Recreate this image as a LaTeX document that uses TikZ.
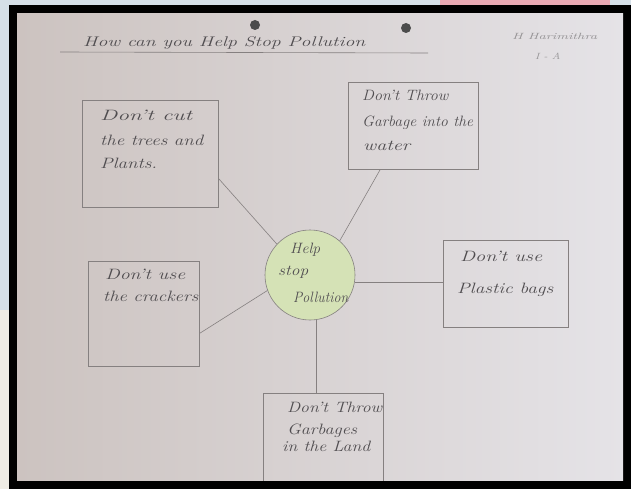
\documentclass[tikz,border=0pt]{standalone}
\usepackage{graphicx}
\usetikzlibrary{calc}
\definecolor{outerblue}{HTML}{D6E0E8}
\definecolor{outercream}{HTML}{EFECE4}
\definecolor{paperL}{HTML}{CCC3C0}
\definecolor{paperR}{HTML}{E5E3E7}
\definecolor{pencil}{HTML}{858080}
\definecolor{ink}{HTML}{504D50}
\definecolor{leaf}{HTML}{D5E2B6}
\definecolor{topred}{HTML}{E9A9B3}
\newcommand\hwt[2]{\resizebox{#1}{\height}{#2}}
\tikzset{
  box/.style={draw=pencil, line width=0.6pt, fill=none, inner sep=0pt},
  hub/.style={circle, draw=pencil, line width=0.6pt, fill=leaf, minimum size=90pt, inner sep=0pt},
  link/.style={draw=pencil, line width=0.6pt},
  hand/.style={text=ink, font=\fontsize{15}{17}\selectfont\itshape, anchor=base west, inner sep=0pt},
  small/.style={text=ink!60, font=\fontsize{9}{10}\selectfont\itshape, anchor=base west, inner sep=0pt}
}
\begin{document}
\begin{tikzpicture}[x=1pt,y=-1pt]
\useasboundingbox (0,0) rectangle (631,489);
% surroundings of the photo
\fill[outerblue] (0,0) rectangle (631,489);
\fill[outercream] (0,310) rectangle (9,489);
\fill[topred] (440,0) rectangle (610,5);
\fill[black] (9,5) rectangle (631,489);
\shade[left color=paperL, right color=paperR] (17,14) rectangle (623,480);
\begin{scope}
\clip (17,14) rectangle (623,480);
% punch holes
\fill[black!70] (255,25) circle (5);
\fill[black!70] (406,28) circle (5);
% title
\node[hand, font=\fontsize{14}{16}\selectfont\itshape] (title) at (83,47) {\hwt{282pt}{How can you Help Stop Pollution}};
\coordinate (ulA) at (60,52);
\coordinate (ulB) at (428,53);
\draw[link] (ulA) -- (ulB);
\node[small] (name) at (512,40) {\hwt{85pt}{H Harimithra}};
\node[small] (cls) at (535,60) {\hwt{25pt}{I - A}};
% boxes
\node[box, minimum width=136pt, minimum height=107pt] (b1) at (150,153.5) {};
\node[box, minimum width=130pt, minimum height=87pt] (b2) at (413,125.5) {};
\node[box, minimum width=111pt, minimum height=105pt] (b3) at (143.5,313.5) {};
\node[box, minimum width=125pt, minimum height=87pt] (b4) at (505.5,283.5) {};
\node[box, minimum width=120pt, minimum height=92pt] (b5) at (323,439) {};
\node[hub] (c) at (310,275) {};
% connectors
\draw[link] ($(b1.north east)!0.73!(b1.south east)$) -- (c.137);
\draw[link] ($(b2.south west)!0.25!(b2.south east)$) -- (c.49);
\draw[link] ($(b3.north east)!0.69!(b3.south east)$) -- (c.200);
\draw[link] (c.351) -- (c.351 -| b4.west);
\draw[link] (c.278) -- (c.278 |- b5.north);
% texts
\node[hand] (t1a) at (100,121) {\hwt{92pt}{Don't cut}};
\node[hand] (t1b) at (100,146) {\hwt{103pt}{the trees and}};
\node[hand] (t1c) at (100,168) {\hwt{57pt}{Plants.}};
\node[hand] (t2a) at (362,101) {\hwt{86pt}{Don't Throw}};
\node[hand] (t2b) at (362,127) {\hwt{111pt}{Garbage into the}};
\node[hand] (t2c) at (363,150) {\hwt{47pt}{water}};
\node[hand] (tca) at (290,253) {\hwt{30pt}{Help}};
\node[hand] (tcb) at (278,275) {\hwt{30pt}{stop}};
\node[hand] (tcc) at (293,302) {\hwt{55pt}{Pollution}};
\node[hand] (t3a) at (105,279) {\hwt{80pt}{Don't use}};
\node[hand] (t3b) at (103,301) {\hwt{95pt}{the crackers}};
\node[hand] (t4a) at (460,261) {\hwt{82pt}{Don't use}};
\node[hand] (t4b) at (457,293) {\hwt{96pt}{Plastic bags}};
\node[hand] (t5a) at (287,412) {\hwt{95pt}{Don't Throw}};
\node[hand] (t5b) at (287,434) {\hwt{70pt}{Garbages}};
\node[hand] (t5c) at (282,451) {\hwt{88pt}{in the Land}};
\end{scope}
\end{tikzpicture}
\end{document}
